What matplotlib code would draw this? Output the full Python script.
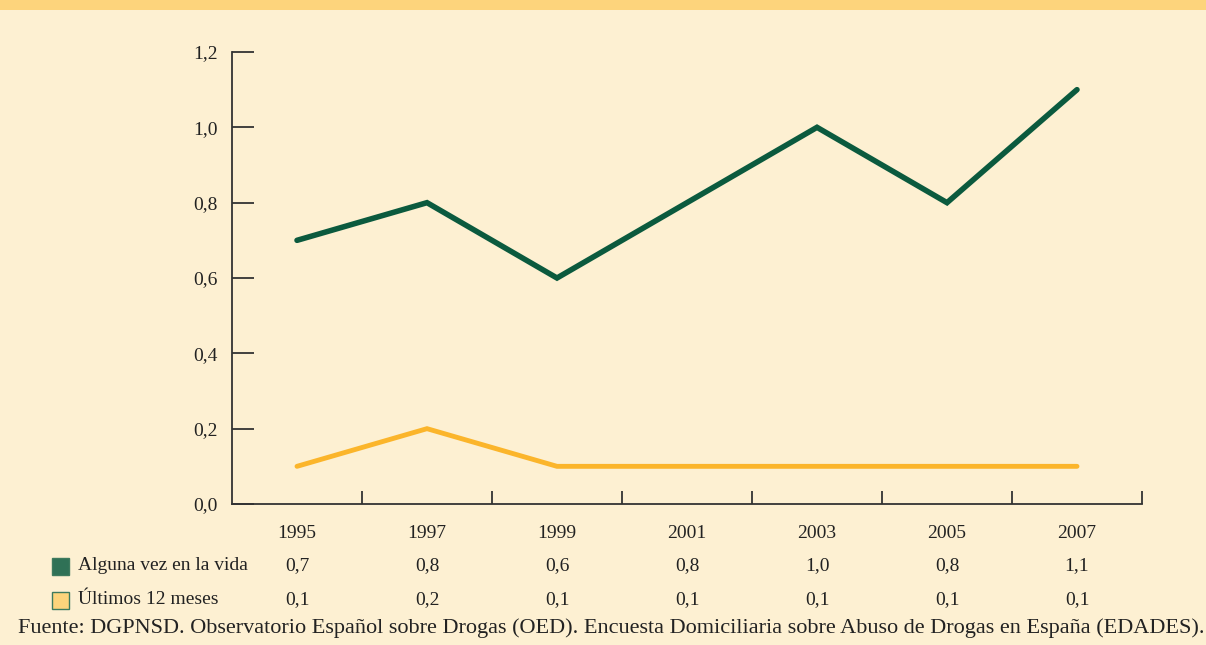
import matplotlib
matplotlib.use("Agg")
import matplotlib.pyplot as plt
from matplotlib.patches import Rectangle
import matplotlib.transforms as mtransforms

years = ["1995", "1997", "1999", "2001", "2003", "2005", "2007"]
alguna_vez = [0.7, 0.8, 0.6, 0.8, 1.0, 0.8, 1.1]
ultimos_12 = [0.1, 0.2, 0.1, 0.1, 0.1, 0.1, 0.1]
series_names = ["Alguna vez en la vida", "Últimos 12 meses"]
yticks = [0.0, 0.2, 0.4, 0.6, 0.8, 1.0, 1.2]
source = ("Fuente: DGPNSD. Observatorio Español sobre Drogas (OED). "
          "Encuesta Domiciliaria sobre Abuso de Drogas en España (EDADES).")

W, H = 1206, 645
BG = "#FDF0D2"
STRIP = "#FDD47C"
GREEN = "#0B5A3E"
ORANGE = "#FBB52B"
AX = "#333333"
TXT = "#222222"
FS = 14

plt.rcParams["font.family"] = ["Liberation Serif", "DejaVu Serif"]

fig = plt.figure(figsize=(W / 100, H / 100), dpi=100)
fig.patch.set_facecolor(BG)
fig.add_artist(Rectangle((0, 1 - 10 / H), 1, 10 / H, transform=fig.transFigure,
                         facecolor=STRIP, edgecolor="none", zorder=0))

left, right, top, bottom = 232, 1142, 52, 504
ax = fig.add_axes([left / W, 1 - bottom / H, (right - left) / W, (bottom - top) / H])
ax.set_facecolor("none")
x = list(range(len(years)))
ax.plot(x, alguna_vez, color=GREEN, lw=4.0, solid_capstyle="round", solid_joinstyle="miter", zorder=3)
ax.plot(x, ultimos_12, color=ORANGE, lw=3.5, solid_capstyle="round", solid_joinstyle="miter", zorder=3)
ax.set_xlim(-0.5, len(years) - 0.5)
ax.set_ylim(0, 1.2)

for s in ["top", "right"]:
    ax.spines[s].set_visible(False)
for s in ["left", "bottom"]:
    ax.spines[s].set_color(AX)
    ax.spines[s].set_linewidth(1.3)

ax.set_yticks(yticks)
ax.set_yticklabels([f"{v:.1f}".replace(".", ",") for v in yticks], fontsize=FS, color=TXT)
ax.tick_params(axis="y", direction="in", length=16, width=1.3, color=AX, pad=10)
ax.set_xticks([i + 0.5 for i in x])
ax.set_xticklabels([])
ax.tick_params(axis="x", direction="in", length=9.5, width=1.3, color=AX)

trans = mtransforms.blended_transform_factory(ax.transData, fig.transFigure)
rows_y = [533, 566, 600]
for i, yr in enumerate(years):
    ax.text(i, 1 - rows_y[0] / H, yr, transform=trans, ha="center", va="center",
            fontsize=FS, color=TXT)
    ax.text(i, 1 - rows_y[1] / H, f"{alguna_vez[i]:.1f}".replace(".", ","), transform=trans,
            ha="center", va="center", fontsize=FS, color=TXT)
    ax.text(i, 1 - rows_y[2] / H, f"{ultimos_12[i]:.1f}".replace(".", ","), transform=trans,
            ha="center", va="center", fontsize=FS, color=TXT)

sq_fc = ["#2F7156", "#FDD47C"]
for k, name in enumerate(series_names):
    yc = rows_y[k + 1]
    fig.add_artist(Rectangle((52 / W, 1 - (yc + 9) / H), 17 / W, 17 / H, transform=fig.transFigure,
                             facecolor=sq_fc[k], edgecolor="#3E7A5E", lw=1.0))
    fig.text(78 / W, 1 - yc / H, name, ha="left", va="center", fontsize=FS, color=TXT)

fig.text(1204 / W, 1 - 628 / H, source, ha="right", va="center", fontsize=16.0, color=TXT)

fig.savefig("out.png", dpi=100, facecolor=BG)
